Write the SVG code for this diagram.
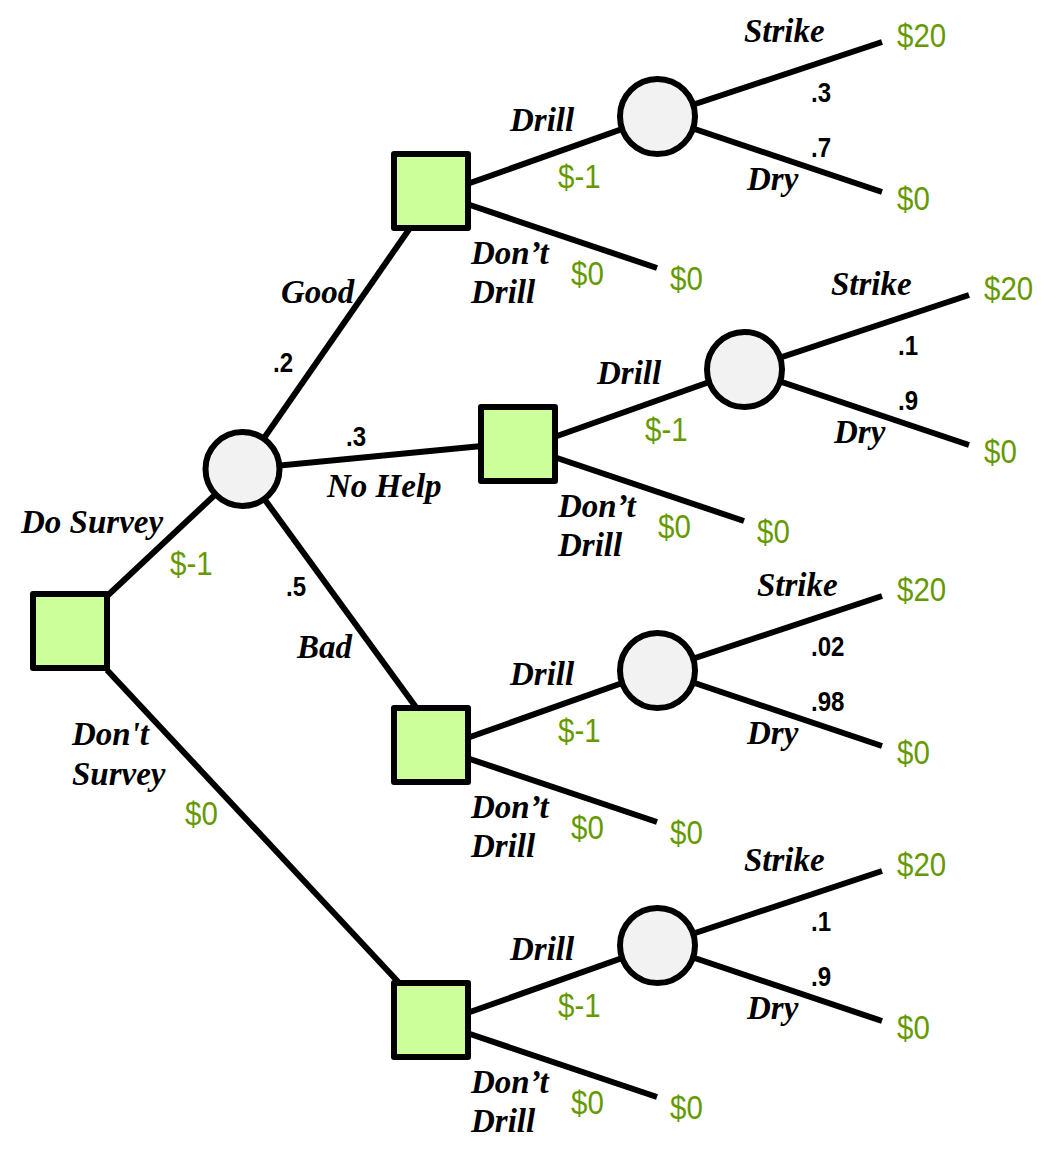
<svg xmlns="http://www.w3.org/2000/svg" width="1059" height="1161" viewBox="0 0 1059 1161">
<style>
.dec{fill:#ccff99;stroke:#000;stroke-width:6;stroke-linejoin:round}
.ch{fill:#f2f2f2;stroke:#000;stroke-width:6}
.ln{stroke:#000;stroke-width:6;fill:none;stroke-linecap:butt}
.lbl{font-family:"Liberation Serif","Times New Roman",serif;font-weight:bold;font-style:italic;font-size:33px;fill:#000}
.pr{font-family:"Liberation Sans",Arial,sans-serif;font-weight:bold;font-size:28px;fill:#000}
.val{font-family:"Liberation Sans",Arial,sans-serif;font-size:33.5px;fill:#669900}
</style>
<rect width="1059" height="1161" fill="#fff"/>
<g id="connectors">
<line class="ln" x1="105" y1="598" x2="242.5" y2="469"/>
<line class="ln" x1="107" y1="670" x2="402" y2="986"/>
<line class="ln" x1="242.5" y1="469" x2="410" y2="228"/>
<line class="ln" x1="242.5" y1="469" x2="482" y2="446"/>
<line class="ln" x1="242.5" y1="469" x2="418" y2="710"/>
<line class="ln" x1="470" y1="183" x2="657.5" y2="116.5"/>
<line class="ln" x1="470" y1="205" x2="657" y2="268"/>
<line class="ln" x1="657.5" y1="116.5" x2="882" y2="42"/>
<line class="ln" x1="657.5" y1="116.5" x2="882" y2="192"/>
<line class="ln" x1="557" y1="436" x2="744.5" y2="369.5"/>
<line class="ln" x1="557" y1="458" x2="744" y2="521"/>
<line class="ln" x1="744.5" y1="369.5" x2="969" y2="295"/>
<line class="ln" x1="744.5" y1="369.5" x2="969" y2="445"/>
<line class="ln" x1="470" y1="737" x2="657.5" y2="670.5"/>
<line class="ln" x1="470" y1="759" x2="657" y2="822"/>
<line class="ln" x1="657.5" y1="670.5" x2="882" y2="596"/>
<line class="ln" x1="657.5" y1="670.5" x2="882" y2="746"/>
<line class="ln" x1="470" y1="1012" x2="657.5" y2="945.5"/>
<line class="ln" x1="470" y1="1034" x2="657" y2="1097"/>
<line class="ln" x1="657.5" y1="945.5" x2="882" y2="871"/>
<line class="ln" x1="657.5" y1="945.5" x2="882" y2="1021"/>
</g>
<g id="root"><rect class="dec" x="33" y="594" width="74" height="74"/></g>
<g id="survey-chance"><circle class="ch" cx="242.5" cy="469" r="37"/></g>
<g id="good-decision"><rect class="dec" x="394" y="154" width="74" height="74"/></g>
<g id="nohelp-decision"><rect class="dec" x="481" y="407" width="74" height="74"/></g>
<g id="bad-decision"><rect class="dec" x="394" y="708" width="74" height="74"/></g>
<g id="nosurvey-decision"><rect class="dec" x="394" y="983" width="74" height="74"/></g>
<g id="good-chance"><circle class="ch" cx="657.5" cy="116.5" r="37.5"/></g>
<g id="nohelp-chance"><circle class="ch" cx="744.5" cy="369.5" r="37.5"/></g>
<g id="bad-chance"><circle class="ch" cx="657.5" cy="670.5" r="37.5"/></g>
<g id="nosurvey-chance"><circle class="ch" cx="657.5" cy="945.5" r="37.5"/></g>
<g id="labels">
<text class="lbl" x="21" y="533">Do Survey</text>
<text class="val" transform="translate(170,575) scale(0.88,1)">$-1</text>
<text class="lbl" x="72" y="745">Don't</text>
<text class="lbl" x="72" y="785">Survey</text>
<text class="val" transform="translate(185,825) scale(0.88,1)">$0</text>
<text class="lbl" x="281" y="303">Good</text>
<text class="pr" transform="translate(273,372) scale(0.86,1)">.2</text>
<text class="pr" transform="translate(346,446) scale(0.86,1)">.3</text>
<text class="lbl" x="327" y="497">No Help</text>
<text class="pr" transform="translate(286,596) scale(0.86,1)">.5</text>
<text class="lbl" x="297" y="658">Bad</text>

<text class="lbl" x="510" y="131">Drill</text>
<text class="val" transform="translate(558,188) scale(0.88,1)">$-1</text>
<text class="lbl" x="471" y="264">Don’t</text>
<text class="lbl" x="471" y="303">Drill</text>
<text class="val" transform="translate(571,285) scale(0.88,1)">$0</text>
<text class="lbl" x="744" y="42">Strike</text>
<text class="pr" transform="translate(811,102) scale(0.86,1)">.3</text>
<text class="pr" transform="translate(811,157) scale(0.86,1)">.7</text>
<text class="lbl" x="747" y="190">Dry</text>

<text class="lbl" x="597" y="384">Drill</text>
<text class="val" transform="translate(645,441) scale(0.88,1)">$-1</text>
<text class="lbl" x="558" y="517">Don’t</text>
<text class="lbl" x="558" y="556">Drill</text>
<text class="val" transform="translate(658,538) scale(0.88,1)">$0</text>
<text class="lbl" x="831" y="295">Strike</text>
<text class="pr" transform="translate(898,355) scale(0.86,1)">.1</text>
<text class="pr" transform="translate(898,410) scale(0.86,1)">.9</text>
<text class="lbl" x="834" y="443">Dry</text>

<text class="lbl" x="510" y="685">Drill</text>
<text class="val" transform="translate(558,742) scale(0.88,1)">$-1</text>
<text class="lbl" x="471" y="818">Don’t</text>
<text class="lbl" x="471" y="857">Drill</text>
<text class="val" transform="translate(571,839) scale(0.88,1)">$0</text>
<text class="lbl" x="757" y="596">Strike</text>
<text class="pr" transform="translate(811,656) scale(0.86,1)">.02</text>
<text class="pr" transform="translate(811,711) scale(0.86,1)">.98</text>
<text class="lbl" x="747" y="744">Dry</text>

<text class="lbl" x="510" y="960">Drill</text>
<text class="val" transform="translate(558,1017) scale(0.88,1)">$-1</text>
<text class="lbl" x="471" y="1093">Don’t</text>
<text class="lbl" x="471" y="1132">Drill</text>
<text class="val" transform="translate(571,1114) scale(0.88,1)">$0</text>
<text class="lbl" x="744" y="871">Strike</text>
<text class="pr" transform="translate(811,931) scale(0.86,1)">.1</text>
<text class="pr" transform="translate(811,986) scale(0.86,1)">.9</text>
<text class="lbl" x="747" y="1019">Dry</text>
</g>
<g id="good-strike-end"><text class="val" transform="translate(897,47) scale(0.88,1)">$20</text></g>
<g id="good-dry-end"><text class="val" transform="translate(897,210) scale(0.88,1)">$0</text></g>
<g id="good-nodrill-end"><text class="val" transform="translate(670,290) scale(0.88,1)">$0</text></g>
<g id="nohelp-strike-end"><text class="val" transform="translate(984,300) scale(0.88,1)">$20</text></g>
<g id="nohelp-dry-end"><text class="val" transform="translate(984,463) scale(0.88,1)">$0</text></g>
<g id="nohelp-nodrill-end"><text class="val" transform="translate(757,543) scale(0.88,1)">$0</text></g>
<g id="bad-strike-end"><text class="val" transform="translate(897,601) scale(0.88,1)">$20</text></g>
<g id="bad-dry-end"><text class="val" transform="translate(897,764) scale(0.88,1)">$0</text></g>
<g id="bad-nodrill-end"><text class="val" transform="translate(670,844) scale(0.88,1)">$0</text></g>
<g id="nosurvey-strike-end"><text class="val" transform="translate(897,876) scale(0.88,1)">$20</text></g>
<g id="nosurvey-dry-end"><text class="val" transform="translate(897,1039) scale(0.88,1)">$0</text></g>
<g id="nosurvey-nodrill-end"><text class="val" transform="translate(670,1119) scale(0.88,1)">$0</text></g>
</svg>
